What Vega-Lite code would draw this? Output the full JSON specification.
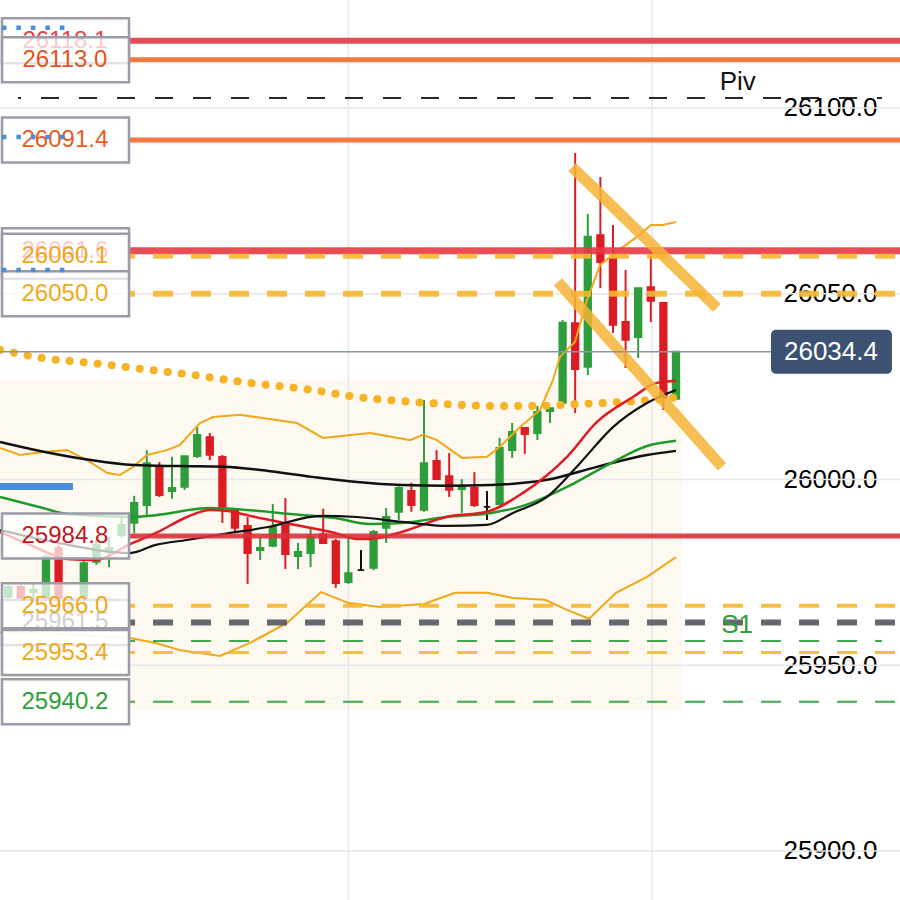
{
  "$schema": "https://vega.github.io/schema/vega-lite/v6.json",
  "width": 900,
  "height": 900,
  "autosize": {"type": "none"},
  "padding": 0,
  "background": "#ffffff",
  "resolve": {"scale": {"color": "independent", "size": "independent", "strokeDash": "independent"}},
  "config": {
    "view": {"stroke": null},
    "scale": {"continuousPadding": 0},
    "axisX": {"disable": true},
    "axisY": {"grid": false, "ticks": false, "tickSize": 0, "domain": false, "labelFont": "Liberation Sans", "labelFontSize": 26, "labelColor": "#000000", "labelAlign": "right", "labelPadding": -23, "labelBaseline": "middle", "labelFlush": false, "labelOverlap": false, "title": null}
  },
  "datasets": {
    "candles": [
      {"t": 0, "o": 25968.4, "h": 25971.6, "l": 25967.6, "c": 25971.1},
      {"t": 1, "o": 25971.1, "h": 25971.6, "l": 25967.6, "c": 25968.1},
      {"t": 2, "o": 25969.7, "h": 25972.1, "l": 25967.6, "c": 25970.3},
      {"t": 3, "o": 25967.6, "h": 25979.7, "l": 25967.0, "c": 25979.1},
      {"t": 4, "o": 25981.6, "h": 25982.4, "l": 25966.2, "c": 25967.6},
      {"t": 6, "o": 25967.6, "h": 25978.3, "l": 25967.0, "c": 25977.5},
      {"t": 7, "o": 25977.8, "h": 25983.7, "l": 25977.0, "c": 25982.4},
      {"t": 8, "o": 25980.5, "h": 25984.5, "l": 25976.4, "c": 25981.6},
      {"t": 9, "o": 25985.0, "h": 25991.0, "l": 25984.3, "c": 25987.8},
      {"t": 10, "o": 25988.3, "h": 25995.6, "l": 25985.6, "c": 25993.7},
      {"t": 11, "o": 25993.1, "h": 26007.9, "l": 25989.9, "c": 26004.4},
      {"t": 12, "o": 26003.6, "h": 26004.7, "l": 25995.3, "c": 25995.8},
      {"t": 13, "o": 25996.9, "h": 26006.1, "l": 25994.8, "c": 25997.7},
      {"t": 14, "o": 25998.0, "h": 26006.3, "l": 25997.2, "c": 26006.3},
      {"t": 15, "o": 26006.3, "h": 26014.1, "l": 26005.8, "c": 26012.0},
      {"t": 16, "o": 26011.4, "h": 26012.5, "l": 26005.2, "c": 26006.6},
      {"t": 17, "o": 26006.1, "h": 26006.6, "l": 25988.3, "c": 25992.6},
      {"t": 18, "o": 25991.8, "h": 25992.3, "l": 25985.9, "c": 25987.0},
      {"t": 19, "o": 25987.5, "h": 25989.9, "l": 25971.9, "c": 25980.2},
      {"t": 20, "o": 25981.0, "h": 25984.5, "l": 25978.3, "c": 25981.6},
      {"t": 21, "o": 25982.1, "h": 25993.4, "l": 25981.8, "c": 25987.2},
      {"t": 22, "o": 25987.5, "h": 25995.0, "l": 25975.9, "c": 25979.9},
      {"t": 23, "o": 25979.4, "h": 25982.9, "l": 25975.9, "c": 25980.5},
      {"t": 24, "o": 25980.2, "h": 25986.7, "l": 25976.4, "c": 25984.5},
      {"t": 25, "o": 25985.3, "h": 25992.1, "l": 25982.6, "c": 25982.9},
      {"t": 26, "o": 25983.4, "h": 25984.0, "l": 25970.8, "c": 25972.1},
      {"t": 27, "o": 25972.4, "h": 25984.3, "l": 25971.9, "c": 25974.8},
      {"t": 28, "o": 25975.6, "h": 25981.0, "l": 25975.4, "c": 25975.6},
      {"t": 29, "o": 25976.2, "h": 25986.4, "l": 25975.6, "c": 25985.9},
      {"t": 30, "o": 25987.0, "h": 25992.3, "l": 25982.9, "c": 25989.9},
      {"t": 31, "o": 25991.3, "h": 25998.2, "l": 25989.1, "c": 25997.7},
      {"t": 32, "o": 25996.9, "h": 25999.1, "l": 25991.3, "c": 25993.1},
      {"t": 33, "o": 25991.8, "h": 26021.4, "l": 25991.3, "c": 26004.4},
      {"t": 34, "o": 26005.0, "h": 26007.9, "l": 25999.9, "c": 26000.1},
      {"t": 35, "o": 26000.9, "h": 26007.1, "l": 25995.3, "c": 25997.2},
      {"t": 36, "o": 25997.4, "h": 26000.1, "l": 25991.0, "c": 25998.0},
      {"t": 37, "o": 25997.7, "h": 26002.0, "l": 25992.6, "c": 25993.1},
      {"t": 38, "o": 25992.6, "h": 25996.9, "l": 25989.1, "c": 25992.6},
      {"t": 39, "o": 25993.4, "h": 26011.2, "l": 25993.1, "c": 26008.5},
      {"t": 40, "o": 26007.9, "h": 26015.2, "l": 26005.8, "c": 26012.8},
      {"t": 41, "o": 26013.9, "h": 26014.1, "l": 26006.9, "c": 26012.2},
      {"t": 42, "o": 26012.5, "h": 26019.8, "l": 26010.6, "c": 26018.2},
      {"t": 43, "o": 26018.4, "h": 26019.5, "l": 26015.2, "c": 26019.2},
      {"t": 44, "o": 26020.6, "h": 26042.9, "l": 26020.3, "c": 26042.2},
      {"t": 45, "o": 26042.1, "h": 26087.9, "l": 26017.9, "c": 26029.7},
      {"t": 46, "o": 26030.3, "h": 26071.5, "l": 26028.1, "c": 26065.4},
      {"t": 47, "o": 26065.8, "h": 26081.4, "l": 26051.5, "c": 26058.5},
      {"t": 48, "o": 26059.6, "h": 26068.5, "l": 26039.4, "c": 26041.6},
      {"t": 49, "o": 26042.4, "h": 26056.4, "l": 26030.0, "c": 26037.6},
      {"t": 50, "o": 26038.3, "h": 26051.5, "l": 26032.7, "c": 26051.5},
      {"t": 51, "o": 26051.8, "h": 26061.8, "l": 26042.4, "c": 26048.1},
      {"t": 52, "o": 26047.5, "h": 26047.8, "l": 26018.7, "c": 26021.9},
      {"t": 53, "o": 26021.7, "h": 26034.4, "l": 26021.5, "c": 26034.4}
    ],
    "lines": [
      {"s": "dot", "t": -0.65, "p": 26034.9}, {"s": "dot", "t": 2.76, "p": 26032.7}, {"s": "dot", "t": 7.29, "p": 26031.1}, {"s": "dot", "t": 11.25, "p": 26029.5}, {"s": "dot", "t": 15.22, "p": 26027.9}, {"s": "dot", "t": 18.48, "p": 26026.3}, {"s": "dot", "t": 24.11, "p": 26024.1}, {"s": "dot", "t": 27.68, "p": 26022.2}, {"s": "dot", "t": 31.25, "p": 26021.1}, {"s": "dot", "t": 34.75, "p": 26020.3}, {"s": "dot", "t": 38.32, "p": 26019.8}, {"s": "dot", "t": 41.89, "p": 26019.8}, {"s": "dot", "t": 45.38, "p": 26020.3}, {"s": "dot", "t": 48.95, "p": 26020.9}, {"s": "dot", "t": 52.52, "p": 26021.9}, {"s": "dot", "t": 53.32, "p": 26022.2},
      {"s": "bbU", "t": -0.65, "p": 26008.5}, {"s": "bbU", "t": 0.94, "p": 26006.6}, {"s": "bbU", "t": 2.76, "p": 26007.4}, {"s": "bbU", "t": 4.67, "p": 26007.9}, {"s": "bbU", "t": 6.25, "p": 26005.2}, {"s": "bbU", "t": 7.84, "p": 26001.8}, {"s": "bbU", "t": 8.87, "p": 26001.2}, {"s": "bbU", "t": 9.9, "p": 26003.4}, {"s": "bbU", "t": 11.02, "p": 26006.6}, {"s": "bbU", "t": 12.6, "p": 26007.9}, {"s": "bbU", "t": 13.63, "p": 26009.3}, {"s": "bbU", "t": 15.22, "p": 26015.2}, {"s": "bbU", "t": 16.25, "p": 26016.8}, {"s": "bbU", "t": 18.4, "p": 26017.4}, {"s": "bbU", "t": 22.92, "p": 26015.2}, {"s": "bbU", "t": 24.98, "p": 26011.2}, {"s": "bbU", "t": 28.71, "p": 26012.5}, {"s": "bbU", "t": 31.89, "p": 26010.6}, {"s": "bbU", "t": 32.92, "p": 26012.0}, {"s": "bbU", "t": 34.03, "p": 26010.6}, {"s": "bbU", "t": 36.02, "p": 26005.8}, {"s": "bbU", "t": 38.0, "p": 26006.1}, {"s": "bbU", "t": 39.03, "p": 26008.8}, {"s": "bbU", "t": 40.62, "p": 26014.1}, {"s": "bbU", "t": 42.21, "p": 26018.7}, {"s": "bbU", "t": 43.24, "p": 26026.8}, {"s": "bbU", "t": 43.79, "p": 26033.0}, {"s": "bbU", "t": 44.98, "p": 26037.0}, {"s": "bbU", "t": 45.94, "p": 26048.3}, {"s": "bbU", "t": 46.97, "p": 26057.7}, {"s": "bbU", "t": 48.16, "p": 26061.0}, {"s": "bbU", "t": 49.9, "p": 26065.3}, {"s": "bbU", "t": 51.02, "p": 26068.5}, {"s": "bbU", "t": 51.97, "p": 26068.5}, {"s": "bbU", "t": 53.0, "p": 26069.3},
      {"s": "bbL", "t": -0.65, "p": 25958.9}, {"s": "bbL", "t": 4.11, "p": 25958.4}, {"s": "bbL", "t": 9.67, "p": 25957.3}, {"s": "bbL", "t": 11.73, "p": 25956.0}, {"s": "bbL", "t": 13.56, "p": 25954.1}, {"s": "bbL", "t": 15.22, "p": 25953.3}, {"s": "bbL", "t": 16.81, "p": 25952.5}, {"s": "bbL", "t": 19.19, "p": 25956.0}, {"s": "bbL", "t": 22.13, "p": 25961.4}, {"s": "bbL", "t": 24.83, "p": 25969.7}, {"s": "bbL", "t": 26.97, "p": 25966.8}, {"s": "bbL", "t": 29.43, "p": 25965.7}, {"s": "bbL", "t": 33.0, "p": 25966.5}, {"s": "bbL", "t": 35.46, "p": 25969.5}, {"s": "bbL", "t": 38.0, "p": 25969.5}, {"s": "bbL", "t": 40.06, "p": 25968.1}, {"s": "bbL", "t": 42.6, "p": 25967.6}, {"s": "bbL", "t": 44.35, "p": 25964.9}, {"s": "bbL", "t": 46.1, "p": 25962.5}, {"s": "bbL", "t": 48.24, "p": 25969.5}, {"s": "bbL", "t": 50.7, "p": 25973.8}, {"s": "bbL", "t": 53.0, "p": 25979.1},
      {"s": "maL", "t": -0.65, "p": 26010.1}, {"s": "maL", "t": 2.92, "p": 26007.4}, {"s": "maL", "t": 6.41, "p": 26005.3}, {"s": "maL", "t": 9.98, "p": 26003.9}, {"s": "maL", "t": 13.56, "p": 26003.6}, {"s": "maL", "t": 17.05, "p": 26003.4}, {"s": "maL", "t": 20.62, "p": 26002.3}, {"s": "maL", "t": 24.11, "p": 26000.7}, {"s": "maL", "t": 27.68, "p": 25999.3}, {"s": "maL", "t": 31.25, "p": 25998.5}, {"s": "maL", "t": 34.75, "p": 25998.3}, {"s": "maL", "t": 38.32, "p": 25998.5}, {"s": "maL", "t": 42.76, "p": 25999.9}, {"s": "maL", "t": 46.73, "p": 26003.4}, {"s": "maL", "t": 50.7, "p": 26006.6}, {"s": "maL", "t": 53.0, "p": 26007.7},
      {"s": "grn", "t": -0.65, "p": 25995.3}, {"s": "grn", "t": 2.76, "p": 25992.3}, {"s": "grn", "t": 4.67, "p": 25990.7}, {"s": "grn", "t": 9.67, "p": 25989.9}, {"s": "grn", "t": 11.73, "p": 25990.4}, {"s": "grn", "t": 16.02, "p": 25992.3}, {"s": "grn", "t": 18.89, "p": 25991.8}, {"s": "grn", "t": 22.37, "p": 25990.7}, {"s": "grn", "t": 25.94, "p": 25989.6}, {"s": "grn", "t": 28.71, "p": 25988.0}, {"s": "grn", "t": 31.25, "p": 25988.3}, {"s": "grn", "t": 34.75, "p": 25989.9}, {"s": "grn", "t": 38.32, "p": 25991.0}, {"s": "grn", "t": 40.86, "p": 25992.9}, {"s": "grn", "t": 44.35, "p": 25998.0}, {"s": "grn", "t": 48.0, "p": 26004.7}, {"s": "grn", "t": 50.7, "p": 26009.0}, {"s": "grn", "t": 53.0, "p": 26010.4},
      {"s": "red", "t": -0.65, "p": 25985.9}, {"s": "red", "t": 1.73, "p": 25982.4}, {"s": "red", "t": 4.67, "p": 25978.6}, {"s": "red", "t": 6.89, "p": 25978.3}, {"s": "red", "t": 9.67, "p": 25982.6}, {"s": "red", "t": 11.73, "p": 25985.6}, {"s": "red", "t": 14.19, "p": 25989.9}, {"s": "red", "t": 16.02, "p": 25991.8}, {"s": "red", "t": 17.44, "p": 25991.5}, {"s": "red", "t": 19.19, "p": 25990.2}, {"s": "red", "t": 22.37, "p": 25988.0}, {"s": "red", "t": 25.94, "p": 25985.6}, {"s": "red", "t": 27.68, "p": 25984.0}, {"s": "red", "t": 28.71, "p": 25984.0}, {"s": "red", "t": 31.25, "p": 25985.9}, {"s": "red", "t": 34.75, "p": 25989.9}, {"s": "red", "t": 38.0, "p": 25991.3}, {"s": "red", "t": 40.86, "p": 25996.4}, {"s": "red", "t": 44.35, "p": 26006.1}, {"s": "red", "t": 46.73, "p": 26015.5}, {"s": "red", "t": 49.59, "p": 26022.2}, {"s": "red", "t": 51.49, "p": 26026.0}, {"s": "red", "t": 53.0, "p": 26026.5},
      {"s": "maS", "t": -0.65, "p": 25986.4}, {"s": "maS", "t": 3.32, "p": 25983.4}, {"s": "maS", "t": 7.05, "p": 25981.0}, {"s": "maS", "t": 9.67, "p": 25980.2}, {"s": "maS", "t": 11.73, "p": 25982.4}, {"s": "maS", "t": 14.19, "p": 25983.7}, {"s": "maS", "t": 17.05, "p": 25985.3}, {"s": "maS", "t": 20.62, "p": 25987.2}, {"s": "maS", "t": 24.83, "p": 25990.2}, {"s": "maS", "t": 27.68, "p": 25989.9}, {"s": "maS", "t": 31.25, "p": 25988.6}, {"s": "maS", "t": 34.83, "p": 25987.5}, {"s": "maS", "t": 38.0, "p": 25987.8}, {"s": "maS", "t": 40.06, "p": 25991.0}, {"s": "maS", "t": 42.76, "p": 25995.3}, {"s": "maS", "t": 45.38, "p": 26004.4}, {"s": "maS", "t": 48.0, "p": 26014.1}, {"s": "maS", "t": 50.7, "p": 26020.6}, {"s": "maS", "t": 53.0, "p": 26024.1},
      {"s": "tA", "t": 44.75, "p": 26084.1}, {"s": "tA", "t": 56.25, "p": 26046.2},
      {"s": "tB", "t": 43.63, "p": 26053.2}, {"s": "tB", "t": 56.65, "p": 26003.4}
    ],
    "levels": [
      {"name": "r3", "p": 26118.1, "t1": 9.67, "t2": 70.8},
      {"name": "r2", "p": 26113.0, "t1": 9.67, "t2": 70.8},
      {"name": "piv", "p": 26102.7, "t1": 0.78, "t2": 69.35},
      {"name": "r1", "p": 26091.4, "t1": 9.67, "t2": 70.8},
      {"name": "res", "p": 26061.6, "t1": 9.67, "t2": 70.8},
      {"name": "y1", "p": 26060.1, "t1": 9.67, "t2": 70.8},
      {"name": "y2", "p": 26050.0, "t1": 9.67, "t2": 70.8},
      {"name": "sup", "p": 25984.8, "t1": 9.67, "t2": 70.8},
      {"name": "y3", "p": 25966.0, "t1": 9.67, "t2": 70.8},
      {"name": "gr", "p": 25961.5, "t1": 9.67, "t2": 70.8},
      {"name": "s1", "p": 25956.5, "t1": 9.67, "t2": 69.35},
      {"name": "y4", "p": 25953.4, "t1": 9.67, "t2": 70.8},
      {"name": "g2", "p": 25940.2, "t1": 9.67, "t2": 70.8}
    ],
    "boxes": [
      {"label": "26118.1", "p": 26118.1, "under": true},
      {"label": "26113.0", "p": 26113.0, "under": false},
      {"label": "26091.4", "p": 26091.4, "under": false},
      {"label": "26061.6", "p": 26061.6, "under": true},
      {"label": "26060.1", "p": 26060.1, "under": false},
      {"label": "26050.0", "p": 26050.0, "under": false},
      {"label": "25984.8", "p": 25984.8, "under": false},
      {"label": "25961.5", "p": 25961.5, "under": true},
      {"label": "25966.0", "p": 25966.0, "under": false},
      {"label": "25953.4", "p": 25953.4, "under": false},
      {"label": "25940.2", "p": 25940.2, "under": false}
    ],
    "blue": [
      {"b": "dots", "p": 26121.6},
      {"b": "dots", "p": 26092.2},
      {"b": "dots", "p": 26056.4},
      {"b": "bar", "p": 25998.1}
    ],
    "notes": [
      {"label": "Piv", "t": 57.9, "p": 26106.9},
      {"label": "S1", "t": 57.85, "p": 25960.9}
    ],
    "grid": [{"g": 25900}, {"g": 25950}, {"g": 26000}, {"g": 26050}, {"g": 26100}],
    "vgrid": [{"vt": 27.0}, {"vt": 51.1}]
  },
  "layer": [
    {
      "data": {"name": "grid"},
      "mark": {"type": "rect", "color": "#fdf9f1"},
      "encoding": {
        "x": {"datum": -0.65, "type": "quantitative", "scale": {"domain": [-0.65, 70.78], "nice": false, "zero": false, "padding": 0}, "axis": null},
        "x2": {"datum": 53.5},
        "y": {"datum": 26027, "type": "quantitative", "scale": {"domain": [25886.8, 26129.07], "nice": false, "zero": false, "padding": 0}, "title": null},
        "y2": {"datum": 25938}
      }
    },
    {
      "data": {"name": "grid"},
      "mark": {"type": "rule", "color": "#e6e6ea", "strokeWidth": 1.5},
      "encoding": {
        "y": {"field": "g", "type": "quantitative", "title": null, "axis": {"orient": "right", "values": [25900, 25950, 26000, 26050, 26100], "format": ".1f"}}
      }
    },
    {
      "data": {"name": "vgrid"},
      "mark": {"type": "rule", "color": "#e6e6ee", "strokeWidth": 1.5},
      "encoding": {"x": {"field": "vt", "type": "quantitative", "axis": null, "title": null}}
    },
    {
      "data": {"name": "candles"},
      "mark": {"type": "rule", "strokeWidth": 2},
      "encoding": {
        "x": {"field": "t", "type": "quantitative", "axis": null, "title": null},
        "y": {"field": "l", "type": "quantitative", "title": null},
        "y2": {"field": "h"},
        "color": {"condition": [{"test": "datum.c > datum.o", "value": "#2e9e3c"}, {"test": "datum.c < datum.o", "value": "#dc1c24"}], "value": "#111111"}
      }
    },
    {
      "data": {"name": "candles"},
      "mark": {"type": "bar", "size": 6.5, "strokeWidth": 1.8},
      "encoding": {
        "x": {"field": "t", "type": "quantitative", "axis": null, "title": null},
        "y": {"field": "o", "type": "quantitative", "title": null},
        "y2": {"field": "c"},
        "fill": {"condition": [{"test": "datum.c > datum.o", "value": "#2e9e3c"}, {"test": "datum.c < datum.o", "value": "#dc1c24"}], "value": "#111111"},
        "stroke": {"condition": [{"test": "datum.c > datum.o", "value": "#2e9e3c"}, {"test": "datum.c < datum.o", "value": "#dc1c24"}], "value": "#111111"}
      }
    },
    {
      "data": {"name": "lines"},
      "transform": [{"filter": "datum.s == 'dot'"}],
      "mark": {"type": "line", "color": "#f5b325", "strokeWidth": 8, "strokeDash": [0.1, 14], "strokeCap": "round", "interpolate": "monotone"},
      "encoding": {
        "x": {"field": "t", "type": "quantitative", "axis": null, "title": null},
        "y": {"field": "p", "type": "quantitative", "title": null}
      }
    },
    {
      "data": {"name": "lines"},
      "transform": [{"filter": "datum.s == 'bbU' || datum.s == 'bbL'"}],
      "mark": {"type": "line", "color": "#f0a818", "strokeWidth": 2},
      "encoding": {
        "x": {"field": "t", "type": "quantitative", "axis": null, "title": null},
        "y": {"field": "p", "type": "quantitative", "title": null},
        "detail": {"field": "s"}
      }
    },
    {
      "data": {"name": "lines"},
      "transform": [{"filter": "datum.s == 'maL'"}],
      "mark": {"type": "line", "color": "#111111", "strokeWidth": 2.5, "interpolate": "monotone"},
      "encoding": {
        "x": {"field": "t", "type": "quantitative", "axis": null, "title": null},
        "y": {"field": "p", "type": "quantitative", "title": null}
      }
    },
    {
      "data": {"name": "lines"},
      "transform": [{"filter": "datum.s == 'grn'"}],
      "mark": {"type": "line", "color": "#1f9a2a", "strokeWidth": 2.5, "interpolate": "monotone"},
      "encoding": {
        "x": {"field": "t", "type": "quantitative", "axis": null, "title": null},
        "y": {"field": "p", "type": "quantitative", "title": null}
      }
    },
    {
      "data": {"name": "lines"},
      "transform": [{"filter": "datum.s == 'red'"}],
      "mark": {"type": "line", "color": "#e01a22", "strokeWidth": 2.5, "interpolate": "monotone"},
      "encoding": {
        "x": {"field": "t", "type": "quantitative", "axis": null, "title": null},
        "y": {"field": "p", "type": "quantitative", "title": null}
      }
    },
    {
      "data": {"name": "lines"},
      "transform": [{"filter": "datum.s == 'maS'"}],
      "mark": {"type": "line", "color": "#111111", "strokeWidth": 2.2, "interpolate": "monotone"},
      "encoding": {
        "x": {"field": "t", "type": "quantitative", "axis": null, "title": null},
        "y": {"field": "p", "type": "quantitative", "title": null}
      }
    },
    {
      "data": {"name": "levels"},
      "mark": {"type": "rule", "opacity": 0.9, "strokeDashOffset": 15},
      "encoding": {
        "x": {"field": "t1", "type": "quantitative", "axis": null, "title": null},
        "x2": {"field": "t2"},
        "y": {"field": "p", "type": "quantitative", "title": null},
        "color": {"field": "name", "type": "nominal", "legend": null, "scale": {"domain": ["r3", "r2", "piv", "r1", "res", "y1", "y2", "sup", "y3", "gr", "s1", "y4", "g2"], "range": ["#e53a42", "#f26a2a", "#111111", "#f26a2a", "#e53a42", "#f5b731", "#f5b731", "#d8313a", "#f5b731", "#55555f", "#2ea03a", "#f5b731", "#2ea03a"]}},
        "size": {"field": "name", "type": "nominal", "legend": null, "scale": {"type": "ordinal", "domain": ["r3", "r2", "piv", "r1", "res", "y1", "y2", "sup", "y3", "gr", "s1", "y4", "g2"], "range": [6, 5, 2, 5, 7, 5, 6, 5, 4, 6, 2, 3, 2]}},
        "strokeDash": {"field": "name", "type": "nominal", "legend": null, "scale": {"type": "ordinal", "domain": ["r3", "r2", "piv", "r1", "res", "y1", "y2", "sup", "y3", "gr", "s1", "y4", "g2"], "range": [[1, 0], [1, 0], [18, 20], [1, 0], [1, 0], [20, 18], [20, 18], [1, 0], [20, 18], [20, 18], [20, 18], [20, 18], [20, 18]]}}
      }
    },
    {
      "data": {"name": "lines"},
      "transform": [{"filter": "datum.s == 'tA' || datum.s == 'tB'"}],
      "mark": {"type": "line", "color": "#f5b335", "strokeWidth": 11, "opacity": 0.85},
      "encoding": {
        "x": {"field": "t", "type": "quantitative", "axis": null, "title": null},
        "y": {"field": "p", "type": "quantitative", "title": null},
        "detail": {"field": "s"}
      }
    },
    {
      "data": {"values": [{"p": 26034.4}]},
      "mark": {"type": "rule", "color": "#8795a8", "strokeWidth": 1.5},
      "encoding": {
        "x": {"datum": -0.65, "type": "quantitative", "axis": null},
        "x2": {"datum": 60.54},
        "y": {"field": "p", "type": "quantitative", "title": null}
      }
    },
    {
      "data": {"name": "boxes"},
      "transform": [{"filter": "datum.under"}],
      "layer": [
        {
          "mark": {"type": "bar", "size": 45, "fill": "#ffffff", "fillOpacity": 0.72, "stroke": "#9a9aa8", "strokeWidth": 2.5},
          "encoding": {
            "x": {"datum": -0.49, "type": "quantitative", "axis": null},
            "x2": {"datum": 9.59},
            "y": {"field": "p", "type": "quantitative", "title": null}
          }
        },
        {
          "mark": {"type": "text", "font": "Liberation Sans", "fontSize": 24, "align": "center", "baseline": "middle"},
          "encoding": {
            "x": {"datum": 4.5, "type": "quantitative", "axis": null},
            "y": {"field": "p", "type": "quantitative", "title": null},
            "text": {"field": "label"},
            "color": {"field": "label", "type": "nominal", "legend": null, "scale": {"domain": ["26118.1", "26061.6", "25961.5"], "range": ["#e8404a", "#e8404a", "#555555"]}}
          }
        }
      ]
    },
    {
      "data": {"name": "boxes"},
      "transform": [{"filter": "!datum.under"}],
      "layer": [
        {
          "mark": {"type": "bar", "size": 45, "fill": "#ffffff", "fillOpacity": 0.72, "stroke": "#9a9aa8", "strokeWidth": 2.5},
          "encoding": {
            "x": {"datum": -0.49, "type": "quantitative", "axis": null},
            "x2": {"datum": 9.59},
            "y": {"field": "p", "type": "quantitative", "title": null}
          }
        },
        {
          "mark": {"type": "text", "font": "Liberation Sans", "fontSize": 24, "align": "center", "baseline": "middle"},
          "encoding": {
            "x": {"datum": 4.5, "type": "quantitative", "axis": null},
            "y": {"field": "p", "type": "quantitative", "title": null},
            "text": {"field": "label"},
            "color": {"field": "label", "type": "nominal", "legend": null, "scale": {"domain": ["26113.0", "26091.4", "26060.1", "26050.0", "25984.8", "25966.0", "25953.4", "25940.2"], "range": ["#e8521e", "#ee5a1e", "#f0a818", "#f0a818", "#c8141e", "#f0a818", "#f0a818", "#2ea03a"]}}
          }
        }
      ]
    },
    {
      "data": {"name": "blue"},
      "transform": [{"filter": "datum.b == 'dots'"}],
      "mark": {"type": "rule", "color": "#4a8fd6", "strokeWidth": 4.5, "strokeDash": [4.5, 10]},
      "encoding": {
        "x": {"datum": -0.5, "type": "quantitative", "axis": null},
        "x2": {"datum": 5.14},
        "y": {"field": "p", "type": "quantitative", "title": null}
      }
    },
    {
      "data": {"name": "blue"},
      "transform": [{"filter": "datum.b == 'bar'"}],
      "mark": {"type": "rule", "color": "#4a8fd6", "strokeWidth": 7},
      "encoding": {
        "x": {"datum": -0.65, "type": "quantitative", "axis": null},
        "x2": {"datum": 5.14},
        "y": {"field": "p", "type": "quantitative", "title": null}
      }
    },
    {
      "data": {"name": "notes"},
      "mark": {"type": "text", "font": "Liberation Sans", "fontSize": 26, "align": "center", "baseline": "middle"},
      "encoding": {
        "x": {"field": "t", "type": "quantitative", "axis": null},
        "y": {"field": "p", "type": "quantitative", "title": null},
        "text": {"field": "label"},
        "color": {"field": "label", "type": "nominal", "legend": null, "scale": {"domain": ["Piv", "S1"], "range": ["#111111", "#2ea03a"]}}
      }
    },
    {
      "data": {"values": [{"p": 26034.4}]},
      "layer": [
        {
          "mark": {"type": "bar", "size": 44, "fill": "#3d5272", "cornerRadius": 5},
          "encoding": {
            "x": {"datum": 60.54, "type": "quantitative", "axis": null},
            "x2": {"datum": 70.14},
            "y": {"field": "p", "type": "quantitative", "title": null}
          }
        },
        {
          "mark": {"type": "text", "font": "Liberation Sans", "fontSize": 26, "align": "center", "baseline": "middle", "color": "#ffffff"},
          "encoding": {
            "x": {"datum": 65.3, "type": "quantitative", "axis": null},
            "y": {"field": "p", "type": "quantitative", "title": null},
            "text": {"field": "p", "format": ".1f"}
          }
        }
      ]
    }
  ]
}
